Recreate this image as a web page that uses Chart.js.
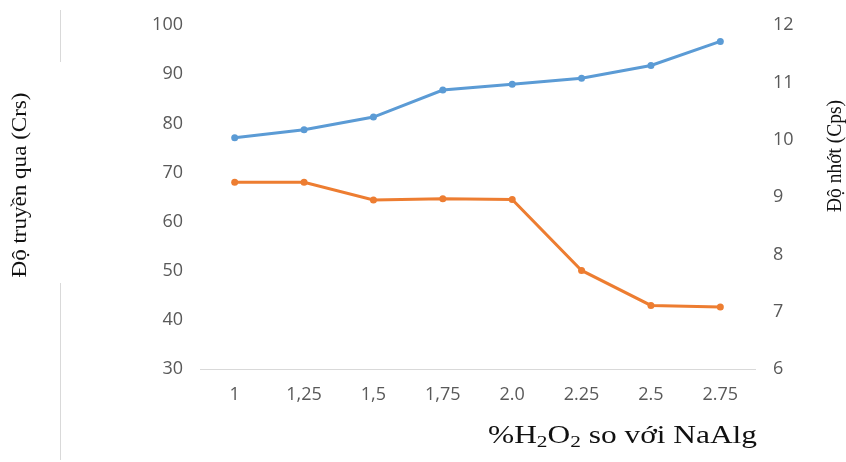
<!DOCTYPE html>
<html>
<head>
<meta charset="utf-8">
<script src="https://cdn.jsdelivr.net/npm/chart.js@4.4.1/dist/chart.umd.min.js"></script>
<style>
  html, body { margin: 0; padding: 0; background: #fff; }
  #chart { display: block; }
</style>
</head>
<body>
<canvas id="chart" width="846" height="462"></canvas>
<script>
const labels = ['1', '1,25', '1,5', '1,75', '2.0', '2.25', '2.5', '2.75'];
const doTruyenQua = [77.1, 78.7, 81.3, 86.8, 88.0, 89.2, 91.8, 96.7];
const doNhot = [9.26, 9.26, 8.95, 8.97, 8.96, 7.72, 7.11, 7.08];
const leftTicks = [30, 100, 10];
const rightTicks = [6, 12, 1];

const tickFont = { family: '"Open Sans", sans-serif', size: 18 };
const yTickFont = { family: '"Open Sans", sans-serif', size: 18, lineHeight: 0.8 };
const tickColor = '#595959';

// tiêu đề trục vẽ tay (chữ serif, chỉ số dưới cho H2O2)
const titlesPlugin = {
  id: 'titles',
  afterDraw(chart) {
    const ctx = chart.ctx;
    ctx.save();

    // đường viền mờ bên trái
    ctx.strokeStyle = '#d9d9d9';
    ctx.lineWidth = 1;
    ctx.beginPath();
    ctx.moveTo(60.5, 10);
    ctx.lineTo(60.5, 62);
    ctx.moveTo(60.5, 283);
    ctx.lineTo(60.5, 460);
    ctx.stroke();

    ctx.fillStyle = '#111';
    ctx.textBaseline = 'middle';
    ctx.textAlign = 'center';

    // trục trái
    ctx.save();
    ctx.translate(21, 185);
    ctx.rotate(-Math.PI / 2);
    ctx.font = '20px "Liberation Serif", serif';
    const wl = ctx.measureText('Độ truyền qua (Crs)').width;
    ctx.scale(185 / wl, 1);
    ctx.fillText('Độ truyền qua (Crs)', 0, 0);
    ctx.restore();

    // trục phải
    ctx.save();
    ctx.translate(836, 156);
    ctx.rotate(-Math.PI / 2);
    ctx.font = '20px "Liberation Serif", serif';
    const wr = ctx.measureText('Độ nhớt (Cps)').width;
    ctx.scale(112 / wr, 1);
    ctx.fillText('Độ nhớt (Cps)', 0, 0);
    ctx.restore();

    // trục hoành: %H2O2 so với NaAlg
    const parts = [
      ['%H', 25, 0],
      ['2', 17, 4],
      ['O', 25, 0],
      ['2', 17, 4],
      [' so với NaAlg', 25, 0]
    ];
    ctx.textAlign = 'left';
    ctx.textBaseline = 'alphabetic';
    let total = 0;
    parts.forEach(p => {
      ctx.font = p[1] + 'px "Liberation Serif", serif';
      total += ctx.measureText(p[0]).width;
    });
    ctx.translate(488, 443);
    ctx.scale(269 / total, 1);
    let x = 0;
    parts.forEach(p => {
      ctx.font = p[1] + 'px "Liberation Serif", serif';
      ctx.fillText(p[0], x, p[2]);
      x += ctx.measureText(p[0]).width;
    });

    ctx.restore();
  }
};

const ctx = document.getElementById('chart').getContext('2d');
new Chart(ctx, {
  type: 'line',
  data: {
    labels: labels,
    datasets: [
      {
        label: 'Độ truyền qua (Crs)',
        data: doTruyenQua,
        yAxisID: 'y',
        borderColor: '#5b9bd5',
        backgroundColor: '#5b9bd5',
        borderWidth: 3,
        pointRadius: 3.5,
        pointBorderWidth: 0,
        tension: 0,
        fill: false
      },
      {
        label: 'Độ nhớt (Cps)',
        data: doNhot,
        yAxisID: 'y1',
        borderColor: '#ed7d31',
        backgroundColor: '#ed7d31',
        borderWidth: 3,
        pointRadius: 3.5,
        pointBorderWidth: 0,
        tension: 0,
        fill: false
      }
    ]
  },
  options: {
    responsive: false,
    animation: false,
    layout: { padding: { top: 24, left: 0, right: 0, bottom: 0 } },
    plugins: {
      legend: { display: false },
      tooltip: { enabled: false }
    },
    scales: {
      x: {
        offset: true,
        grid: { display: false, drawTicks: false, offset: true },
        border: { display: true, color: '#d9d9d9', width: 1 },
        ticks: { font: tickFont, color: tickColor, padding: 15, maxRotation: 0 },
        afterFit(scale) { scale.height = 93; }
      },
      y: {
        position: 'left',
        min: leftTicks[0],
        max: leftTicks[1],
        grid: { display: false, drawTicks: false },
        border: { display: false },
        ticks: { stepSize: leftTicks[2], font: yTickFont, color: tickColor, padding: 17 },
        afterFit(scale) { scale.width = 200; }
      },
      y1: {
        position: 'right',
        min: rightTicks[0],
        max: rightTicks[1],
        grid: { display: false, drawTicks: false },
        border: { display: false },
        ticks: { stepSize: rightTicks[2], font: yTickFont, color: tickColor, padding: 18 },
        afterFit(scale) { scale.width = 91; }
      }
    }
  },
  plugins: [titlesPlugin]
});
</script>
</body>
</html>
